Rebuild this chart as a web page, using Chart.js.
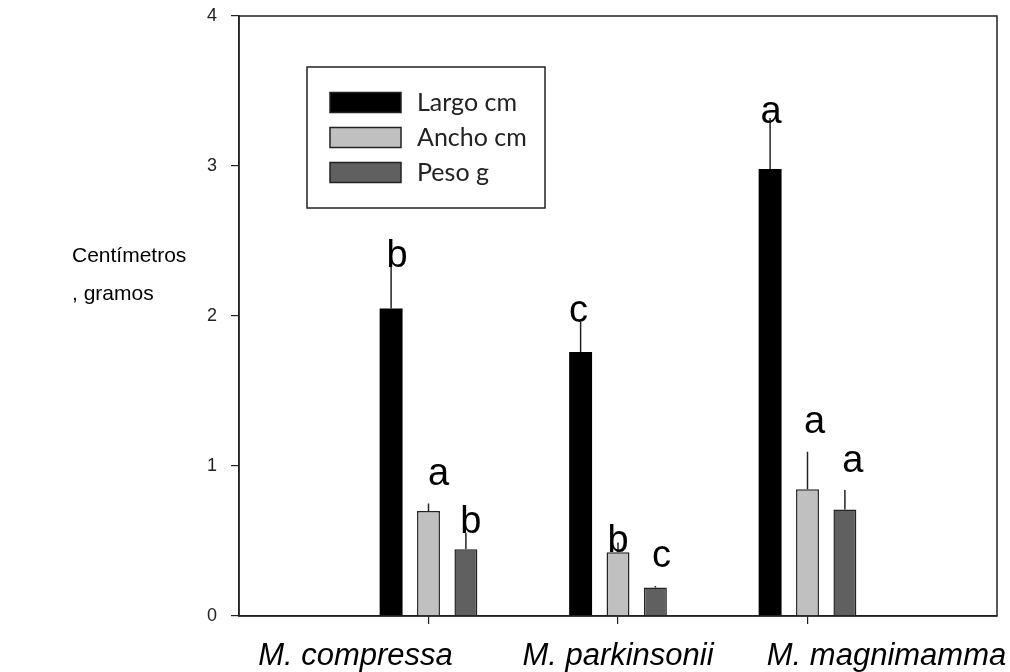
<!DOCTYPE html>
<html lang="es">
<head>
<meta charset="utf-8">
<title>Centímetros, gramos</title>
<script src="https://cdn.jsdelivr.net/npm/chart.js@4.4.0/dist/chart.umd.min.js"></script>
<style>
  html, body { margin: 0; padding: 0; background: #fff; }
</style>
</head>
<body>
<canvas id="chart" width="1010" height="672"></canvas>
<script>
// species on the x axis
var categories = ['M. compressa', 'M. parkinsonii', 'M. magnimamma'];
var yTicks = [0, 1, 2, 3, 4];

// means
var largo = [2.05, 1.76, 2.98];
var ancho = [0.70, 0.425, 0.845];
var peso  = [0.445, 0.19, 0.71];

// error bar half-lengths (upper part only)
var largoErr = [0.30, 0.20, 0.34];
var anchoErr = [0.05, 0.065, 0.25];
var pesoErr  = [0.11, 0.01, 0.13];

// significance letters
var largoLetters = ['b', 'c', 'a'];
var anchoLetters = ['a', 'b', 'a'];
var pesoLetters  = ['b', 'c', 'a'];

// empty slot on each side so the groups sit like in the figure
function pad(arr) { return [null].concat(arr, [null]); }
var labels = [''].concat(categories, ['']);

var errs = [largoErr, anchoErr, pesoErr];
var letters = [largoLetters, anchoLetters, pesoLetters];
// where each letter sits: baseline (in axis units) and x nudge (px)
var letterBase = [[2.33, 1.96, 3.29], [0.873, 0.429, 1.218], [0.551, 0.329, 0.962]];
var letterDx = [[6, -2, 1], [10, 0, 7], [5, 6, 8]];

var FONT = '"Liberation Sans", Arial, sans-serif';
var INK = '#222';

var extras = {
  id: 'extras',
  afterDatasetsDraw: function(chart) {
    var ctx = chart.ctx, ca = chart.chartArea, ys = chart.scales.y;
    ctx.save();
    // frame around plot
    ctx.strokeStyle = INK;
    ctx.lineWidth = 1.5;
    ctx.strokeRect(ca.left, ca.top, ca.right - ca.left, ca.bottom - ca.top);

    // error bars
    ctx.lineWidth = 1.5;
    for (var d = 0; d < 3; d++) {
      var meta = chart.getDatasetMeta(d);
      var vals = chart.data.datasets[d].data;
      for (var j = 1; j <= categories.length; j++) {
        var el = meta.data[j];
        var top = ys.getPixelForValue(vals[j] + errs[d][j - 1]);
        ctx.beginPath();
        ctx.moveTo(el.x, el.y);
        ctx.lineTo(el.x, top);
        ctx.stroke();
      }
    }

    // letters
    ctx.fillStyle = '#000';
    ctx.font = '38px ' + FONT;
    ctx.textAlign = 'center';
    ctx.textBaseline = 'alphabetic';
    for (d = 0; d < 3; d++) {
      meta = chart.getDatasetMeta(d);
      for (j = 1; j <= categories.length; j++) {
        ctx.fillText(letters[d][j - 1], meta.data[j].x + letterDx[d][j - 1], ys.getPixelForValue(letterBase[d][j - 1]));
      }
    }

    // category names
    var xs = chart.scales.x;
    var nameDx = [-73, 0, 79];
    ctx.font = 'italic 31px ' + FONT;
    for (j = 0; j < categories.length; j++) {
      ctx.fillText(categories[j], xs.getPixelForValue(j + 1) + nameDx[j], 665);
    }

    // y axis title, written flat
    ctx.font = '21px ' + FONT;
    ctx.textAlign = 'left';
    ctx.fillText('Centímetros', 72, 262);
    ctx.fillText(', gramos', 72, 300);

    // legend box
    ctx.lineWidth = 1.5;
    ctx.strokeStyle = INK;
    ctx.strokeRect(307, 67, 238, 141);
    var ds = chart.data.datasets;
    ctx.font = '25px Lato, "Open Sans", sans-serif';
    ctx.textBaseline = 'middle';
    for (d = 0; d < ds.length; d++) {
      var cy = 102.5 + d * 35;
      ctx.fillStyle = ds[d].backgroundColor;
      ctx.fillRect(330, cy - 10, 71, 20);
      ctx.lineWidth = 1.5;
      ctx.strokeStyle = INK;
      ctx.strokeRect(330, cy - 10, 71, 20);
      ctx.fillStyle = INK;
      ctx.fillText(ds[d].label, 417, cy);
    }
    ctx.restore();
  }
};

new Chart(document.getElementById('chart'), {
  type: 'bar',
  data: {
    labels: labels,
    datasets: [
      { label: 'Largo cm', data: pad(largo), backgroundColor: '#000000', borderColor: '#000', borderWidth: 0 },
      { label: 'Ancho cm', data: pad(ancho), backgroundColor: '#c0c0c0', borderColor: INK, borderWidth: 1.5 },
      { label: 'Peso g', data: pad(peso), backgroundColor: '#606060', borderColor: INK, borderWidth: 1.5 }
    ]
  },
  options: {
    responsive: false,
    animation: false,
    layout: { padding: { top: 16, right: 13, left: 0, bottom: 0 } },
    datasets: { bar: { categoryPercentage: 0.592, barPercentage: 0.613 } },
    plugins: { legend: { display: false }, tooltip: { enabled: false } },
    scales: {
      x: {
        offset: false,
        grid: {
          offset: false,
          drawOnChartArea: false,
          tickLength: 8,
          lineWidth: 1.2,
          tickColor: function(c) { return (c.index === 0 || c.index === labels.length - 1) ? 'rgba(0,0,0,0)' : INK; }
        },
        border: { display: true, color: INK, width: 1.5 },
        ticks: { display: false },
        afterFit: function(s) { s.height = 56; s.paddingLeft = 0; s.paddingRight = 0; }
      },
      y: {
        min: yTicks[0],
        max: yTicks[yTicks.length - 1],
        afterBuildTicks: function(s) { s.ticks = yTicks.map(function(v) { return { value: v }; }); },
        grid: { drawOnChartArea: false, tickLength: 8, tickColor: INK, lineWidth: 1.2 },
        border: { display: true, color: INK, width: 1.5 },
        ticks: { padding: 14, color: INK, font: { family: FONT, size: 18 } },
        afterFit: function(s) { s.width = 239; s.paddingTop = 0; s.paddingBottom = 0; }
      }
    }
  },
  plugins: [extras]
});
</script>
</body>
</html>
